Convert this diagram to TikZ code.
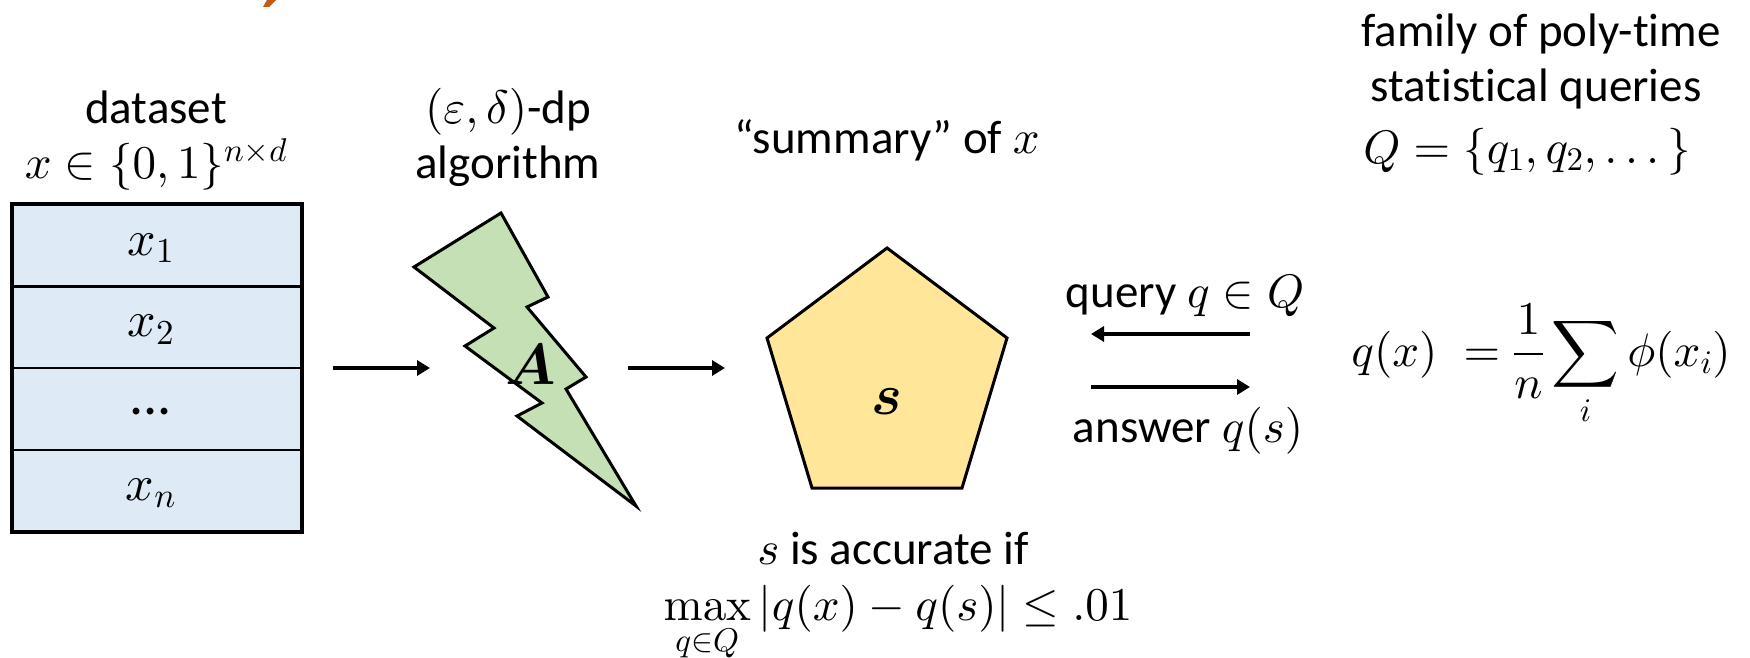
\documentclass[tikz,border=0pt]{standalone}
\usepackage{amsmath}
\usepackage{exscale}
\usepackage[no-math]{fontspec}
\setmainfont[Ligatures=NoCommon]{Carlito}
\DeclareFontShape{OML}{cmm}{m}{it}{<-> cmmi10}{}
\DeclareFontShape{OML}{cmm}{b}{it}{<-> cmmib10}{}
\DeclareFontShape{OMS}{cmsy}{m}{n}{<-> cmsy10}{}
\DeclareFontShape{OMS}{cmsy}{b}{n}{<-> cmbsy10}{}
\DeclareFontShape{OT1}{cmr}{m}{n}{<-> cmr10}{}
\DeclareFontShape{OT1}{cmr}{bx}{n}{<-> cmbx10}{}
\DeclareFontShape{OMX}{cmex}{m}{n}{<-> cmex10}{}
\usetikzlibrary{arrows.meta}
\definecolor{rowblue}{HTML}{DEEAF6}
\definecolor{boltgreen}{HTML}{C5E0B4}
\definecolor{pentyellow}{HTML}{FFE699}
\definecolor{titleorange}{HTML}{C55A11}
\tikzset{
  lbl/.style={font=\fontsize{47}{55}\selectfont,inner sep=0pt,align=center},
  biglbl/.style={font=\fontsize{58}{60}\selectfont,inner sep=0pt},
  rowbox/.style={draw=black,line width=2.4pt,fill=rowblue,minimum width=288pt,minimum height=81.8pt,inner sep=0pt,font=\fontsize{50}{55}\selectfont},
  shapeline/.style={draw=black,line width=3pt,line join=miter},
  conn/.style={line width=3.2pt,-{Triangle[length=13pt,width=15pt]}}
}
\newcommand{\rowtext}[2]{\raisebox{#1}{\smash{\makebox[0pt]{\hspace{-12pt}#2}}}}
\begin{document}
\begin{tikzpicture}[x=1pt,y=-1pt]
\useasboundingbox (0,0) rectangle (1750,658);
% cropped title fragment
\fill[titleorange] (263,7) -- (269,7) -- (276,0) -- (267,0) -- cycle;
% table
\node[rowbox] (r1) at (156.9,245.5) {\rowtext{-19pt}{$x_1$}};
\node[rowbox] (r2) at (156.9,327.2) {\rowtext{-19pt}{$x_2$}};
\node[rowbox] (r3) at (156.9,408.8) {\rowtext{-12pt}{\fontsize{56}{56}\selectfont ...}};
\node[rowbox] (r4) at (156.9,490.6) {\rowtext{-19pt}{$x_n$}};
\draw[line width=3.4pt] (r1.north west) rectangle (r4.south east);
% bolt
\path[shapeline,fill=boltgreen] (501,213) -- (548,297) -- (527,307) -- (586,377) -- (566,389) -- (636,506) -- (517,416) -- (542,403) -- (465,346) -- (494,328) -- (414,267) -- cycle;
\node[biglbl] (bolt) at (531,365) {$\boldsymbol{A}$};
% pentagon
\path[shapeline,fill=pentyellow] (887,248) -- (1007,338) -- (962,488) -- (812,488) -- (767,338) -- cycle;
\node[biglbl] (summ) at (887,402) {$\boldsymbol{s}$};
% labels
\node[lbl] (ds) at (156,141) {dataset\\$x\in\{0,1\}^{n\times d}$};
\node[lbl] (alg) at (508,137) {$(\varepsilon,\delta)$-dp\\algorithm};
\node[lbl] (sumlab) at (887,140) {“summary” of $x$};
\node[lbl] (fam) at (1541,34) {family of poly-time};
\node[lbl] (stat) at (1536,89) {statistical queries};
\node[lbl] (qset) at (1527,152) {$Q=\{q_1,q_2,\dots\}$};
\node[lbl] (query) at (1185,296) {query $q\in Q$};
\node[lbl] (answer) at (1188,431) {answer $q(s)$};
\node[lbl] (formula) at (1541,365) {$\displaystyle q(x)\;=\frac{1}{n}\sum_i\phi(x_i)$};
\node[lbl] (acc) at (893,548) {$s$ is accurate if};
\node[lbl] (max) at (898,624) {$\displaystyle\max_{q\in Q}|q(x)-q(s)|\le .01$};
% connectors
\coordinate (a1s) at (333,368); \coordinate (a1e) at (430,368);
\coordinate (a2s) at (628,368); \coordinate (a2e) at (725,368);
\coordinate (qs) at (1250,334); \coordinate (qe) at (1091,334);
\coordinate (as) at (1091,387); \coordinate (ae) at (1250,387);
\draw[conn] (a1s) -- (a1e);
\draw[conn] (a2s) -- (a2e);
\draw[conn] (qs) -- (qe);
\draw[conn] (as) -- (ae);
\end{tikzpicture}
\end{document}
